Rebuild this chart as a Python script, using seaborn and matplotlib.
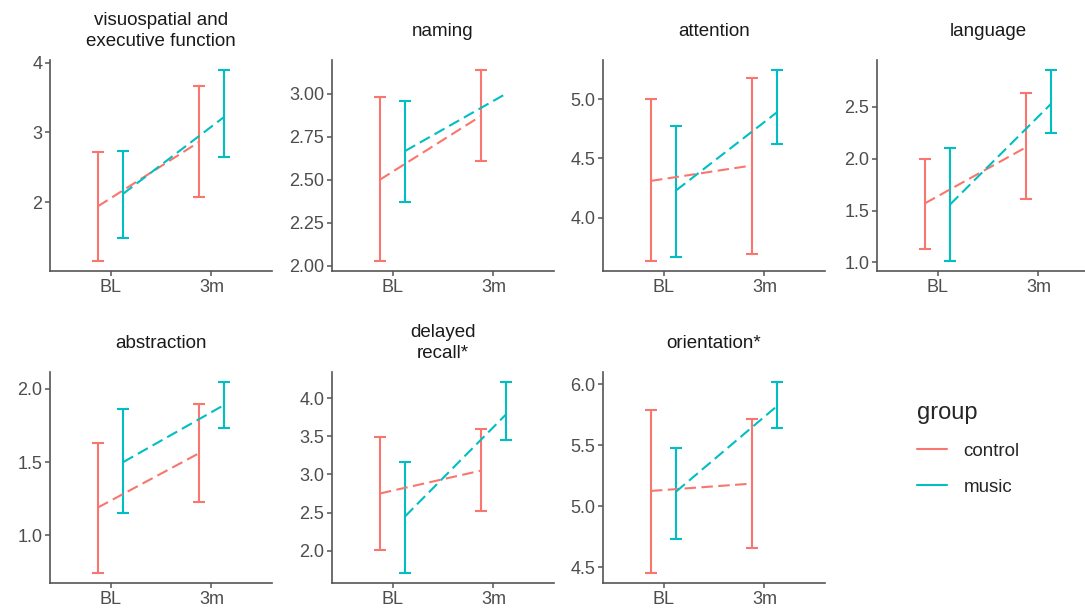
"""
认知各维度 BL / 3m 组间对比图
"""
import matplotlib.pyplot as plt
import numpy as np
import pandas as pd
import seaborn as sns

# 数据
domains = ["visuospatial and\nexecutive function", "naming", "attention", "language",
           "abstraction", "delayed\nrecall*", "orientation*"]
times = ["BL", "3m"]
groups = ["control", "music"]

# 每个维度: [BL, 3m]
control_mean = [[1.94, 2.86], [2.50, 2.87], [4.31, 4.44], [1.57, 2.11],
                [1.19, 1.56], [2.75, 3.05], [5.125, 5.185]]
control_low = [[1.15, 2.08], [2.025, 2.61], [3.63, 3.69], [1.13, 1.61],
               [0.74, 1.23], [2.01, 2.52], [4.45, 4.66]]
control_high = [[2.72, 3.67], [2.98, 3.14], [5.00, 5.18], [2.00, 2.63],
                [1.63, 1.90], [3.49, 3.60], [5.79, 5.71]]
music_mean = [[2.12, 3.22], [2.667, 3.00], [4.23, 4.89], [1.56, 2.53],
              [1.50, 1.89], [2.45, 3.79], [5.12, 5.82]]
music_low = [[1.48, 2.65], [2.37, np.nan], [3.67, 4.62], [1.01, 2.25],
             [1.15, 1.73], [1.70, 3.45], [4.73, 5.64]]
music_high = [[2.74, 3.90], [2.96, np.nan], [4.77, 5.25], [2.10, 2.86],
              [1.86, 2.05], [3.16, 4.22], [5.48, 6.02]]

y_ticks = [["2", "3", "4"],
           ["2.00", "2.25", "2.50", "2.75", "3.00"],
           ["4.0", "4.5", "5.0"],
           ["1.0", "1.5", "2.0", "2.5"],
           ["1.0", "1.5", "2.0"],
           ["2.0", "2.5", "3.0", "3.5", "4.0"],
           ["4.5", "5.0", "5.5", "6.0"]]

palette = {"control": "#F8766D", "music": "#00BFC4"}
dodge = {"control": -0.125, "music": 0.125}

# 整理成长表
rows = []
for d, dom in enumerate(domains):
    for g, (m, lo, hi) in zip(groups, [(control_mean, control_low, control_high),
                                         (music_mean, music_low, music_high)]):
        for t, tm in enumerate(times):
            rows.append({"domain": dom, "group": g, "time": tm,
                         "x": t + dodge[g], "mean": m[d][t],
                         "low": lo[d][t], "high": hi[d][t]})
df = pd.DataFrame(rows)

sns.set_theme(style="ticks")
plt.rcParams['font.family'] = ['Liberation Sans', 'DejaVu Sans']

W, H = 1085, 610
fig = plt.figure(figsize=(W / 100, H / 100), dpi=100)

col_left = [50, 332, 603, 877]
row_top = [60, 372]
pw, ph = 222, 211
axis_color = "#555555"
dash = (0, (5.5, 2.6))

for i, dom in enumerate(domains):
    r, c = divmod(i, 4)
    ax = fig.add_axes([col_left[c] / W, 1 - (row_top[r] + ph) / H, pw / W, ph / H])
    sub = df[df["domain"] == dom]

    # 误差线
    for g in groups:
        s = sub[sub["group"] == g].dropna(subset=["low", "high"])
        ax.errorbar(s["x"], s["mean"],
                    yerr=[s["mean"] - s["low"], s["high"] - s["mean"]],
                    fmt="none", ecolor=palette[g], elinewidth=1.5,
                    capsize=4, capthick=1.5)

    # 均值虚线
    sns.lineplot(data=sub, x="x", y="mean", hue="group", palette=palette,
                 hue_order=groups, ax=ax, legend=False, linewidth=1.5,
                 linestyle=dash, sort=True)

    ax.set_xlim(-0.6, 1.6)
    ax.set_xticks(range(len(times)))
    ax.set_xticklabels(times)
    ax.set_yticks([float(v) for v in y_ticks[i]])
    ax.set_yticklabels(y_ticks[i])
    ax.set_xlabel("")
    ax.set_ylabel("")
    # 分面标题垂直居中（类似 ggplot strip）
    ax.text(0.5, 1 + 29 / ph, dom, transform=ax.transAxes, ha="center",
            va="center", fontsize=13.5, color="#1A1A1A", linespacing=1.35)

    sns.despine(ax=ax)
    for sp in ["left", "bottom"]:
        ax.spines[sp].set_color(axis_color)
        ax.spines[sp].set_linewidth(1.2)
    ax.tick_params(axis="both", colors=axis_color, labelcolor="#4D4D4D",
                   labelsize=13, length=3.5, width=1.1, pad=2)

# 图例
handles = [plt.Line2D([], [], color=palette[g], lw=1.5) for g in groups]
leg = fig.legend(handles, groups, title="group", loc="upper left",
                 bbox_to_anchor=(900 / W, 1 - 385 / H), frameon=False,
                 fontsize=13.5, title_fontsize=17, handlelength=1.6,
                 labelspacing=1.0, handletextpad=0.9)
leg._legend_box.align = "left"

plt.savefig("out.png", dpi=100)
